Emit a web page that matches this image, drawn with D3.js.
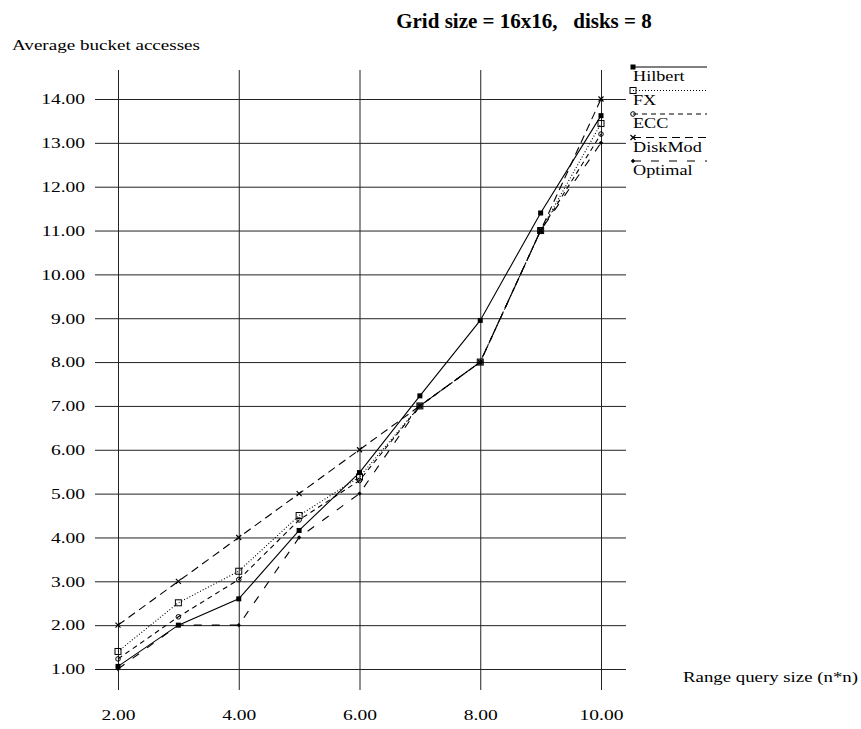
<!DOCTYPE html>
<html>
<head>
<meta charset="utf-8">
<script src="https://cdn.jsdelivr.net/npm/d3@7"></script>
<style>
  html, body { margin: 0; padding: 0; background: #fff; }
  svg { display: block; font-family: "Liberation Serif", "Times New Roman", serif; }
</style>
</head>
<body>
<svg id="chart" width="861" height="729"></svg>
<script>
// Range query sizes (n for an n*n query)
const querySizes = [2, 3, 4, 5, 6, 7, 8, 9, 10];

// Average bucket accesses per declustering method
const hilbert = [1.06, 2.0, 2.6, 4.16, 5.48, 7.23, 8.95, 11.4, 13.62];
const fx      = [1.40, 2.51, 3.23, 4.5, 5.38, 7.0, 8.0, 11.0, 13.44];
const ecc     = [1.23, 2.19, 3.04, 4.4, 5.3, 7.0, 8.0, 11.0, 13.2];
const diskMod = [2.0, 3.0, 4.0, 5.0, 6.0, 7.0, 8.0, 11.0, 14.0];
const optimal = [1.0, 2.0, 2.0, 4.0, 5.0, 7.0, 8.0, 11.0, 13.0];

const seriesNames = ["Hilbert", "FX", "ECC", "DiskMod", "Optimal"];
const seriesValues = [hilbert, fx, ecc, diskMod, optimal];

const xTicks = [2, 4, 6, 8, 10];
const yTicks = [1, 2, 3, 4, 5, 6, 7, 8, 9, 10, 11, 12, 13, 14];

const titleText = "Grid size = 16x16,   disks = 8";
const yLabel = "Average bucket accesses";
const xLabel = "Range query size (n*n)";

// Line and marker styling per series
const styles = [
  { dash: null,   marker: "filledSquare" },
  { dash: "1,2",  marker: "openSquare" },
  { dash: "5,4",  marker: "circle" },
  { dash: "8,5",  marker: "cross" },
  { dash: "8,10", marker: "diamond" }
];

const svg = d3.select("#chart");
const fmt = d3.format(".2f");

const plot = { left: 95, right: 626, top: 70, bottom: 690 };
const x = d3.scaleLinear().domain([2, 10]).range([118, 601]);
const y = d3.scaleLinear().domain([1, 14]).range([669, 99]);

// Widen serif labels horizontally (the plotter font runs wide)
function widen(sel, factor) {
  sel.each(function () {
    const len = this.getComputedTextLength();
    d3.select(this)
      .attr("textLength", len * factor)
      .attr("lengthAdjust", "spacingAndGlyphs");
  });
}

// Title
svg.append("text")
  .attr("x", 524).attr("y", 28)
  .attr("text-anchor", "middle")
  .attr("font-size", 21).attr("font-weight", "bold")
  .attr("xml:space", "preserve")
  .style("white-space", "pre")
  .text(titleText);

// Axis titles
svg.append("text")
  .attr("x", 12).attr("y", 50)
  .attr("font-size", 14)
  .attr("textLength", 188).attr("lengthAdjust", "spacingAndGlyphs")
  .text(yLabel);

svg.append("text")
  .attr("x", 683).attr("y", 682)
  .attr("font-size", 15)
  .attr("textLength", 175).attr("lengthAdjust", "spacingAndGlyphs")
  .text(xLabel);

// Horizontal grid with y labels
const yAxis = svg.append("g")
  .attr("transform", `translate(${plot.left},0)`)
  .call(d3.axisLeft(y).tickValues(yTicks).tickFormat(fmt)
    .tickSize(-(plot.right - plot.left)).tickPadding(10));
yAxis.select(".domain").remove();
yAxis.selectAll("line").attr("stroke", "#222").attr("stroke-width", 1);
yAxis.selectAll("text").attr("font-size", 15).attr("fill", "#000")
  .style("font-family", "'Liberation Serif', serif")
  .call(widen, 1.3);

// Vertical grid with x labels
const xAxis = svg.append("g")
  .attr("transform", `translate(0,${plot.bottom})`)
  .call(d3.axisBottom(x).tickValues(xTicks).tickFormat(fmt)
    .tickSize(-(plot.bottom - plot.top)).tickPadding(18));
xAxis.select(".domain").remove();
xAxis.selectAll("line").attr("stroke", "#222").attr("stroke-width", 1);
xAxis.selectAll("text").attr("font-size", 15).attr("fill", "#000")
  .attr("y", 19).attr("dy", "0.71em")
  .style("font-family", "'Liberation Serif', serif")
  .call(widen, 1.3);

// Marker drawing
function drawMarker(g, kind, cx, cy) {
  if (kind === "filledSquare") {
    g.append("rect").attr("x", cx - 2.5).attr("y", cy - 2.5)
      .attr("width", 5).attr("height", 5).attr("fill", "#000");
  } else if (kind === "openSquare") {
    g.append("rect").attr("x", cx - 3).attr("y", cy - 3)
      .attr("width", 6).attr("height", 6)
      .attr("fill", "none").attr("stroke", "#000").attr("stroke-width", 1);
  } else if (kind === "circle") {
    g.append("circle").attr("cx", cx).attr("cy", cy).attr("r", 2.3)
      .attr("fill", "none").attr("stroke", "#000").attr("stroke-width", 1);
  } else if (kind === "cross") {
    g.append("path")
      .attr("d", `M${cx - 2.5},${cy - 2.5}L${cx + 2.5},${cy + 2.5}M${cx - 2.5},${cy + 2.5}L${cx + 2.5},${cy - 2.5}`)
      .attr("stroke", "#000").attr("stroke-width", 1.2);
  } else if (kind === "diamond") {
    g.append("path")
      .attr("d", `M${cx},${cy - 2.2}L${cx + 2.2},${cy}L${cx},${cy + 2.2}L${cx - 2.2},${cy}Z`)
      .attr("fill", "#000");
  }
}

const line = d3.line()
  .x((d, i) => x(querySizes[i]))
  .y(d => y(d));

// Series lines (Optimal first, Hilbert last so it sits on top)
const seriesG = svg.append("g");
for (let s = seriesValues.length - 1; s >= 0; s--) {
  const g = seriesG.append("g");
  g.append("path")
    .datum(seriesValues[s])
    .attr("d", line)
    .attr("fill", "none")
    .attr("stroke", "#000")
    .attr("stroke-width", 1.1)
    .attr("stroke-dasharray", styles[s].dash);
  seriesValues[s].forEach((v, i) => drawMarker(g, styles[s].marker, x(querySizes[i]), y(v)));
}

// Legend
const legend = svg.append("g");
seriesNames.forEach((name, i) => {
  const ly = 67 + i * 23.5;
  const g = legend.append("g");
  g.append("line")
    .attr("x1", 633).attr("x2", 707)
    .attr("y1", ly).attr("y2", ly)
    .attr("stroke", "#000").attr("stroke-width", 1.1)
    .attr("stroke-dasharray", styles[i].dash);
  drawMarker(g, styles[i].marker, 633, ly);
  g.append("text")
    .attr("x", 633).attr("y", ly + 14)
    .attr("font-size", 14)
    .text(name)
    .call(widen, 1.3);
});
</script>
</body>
</html>
